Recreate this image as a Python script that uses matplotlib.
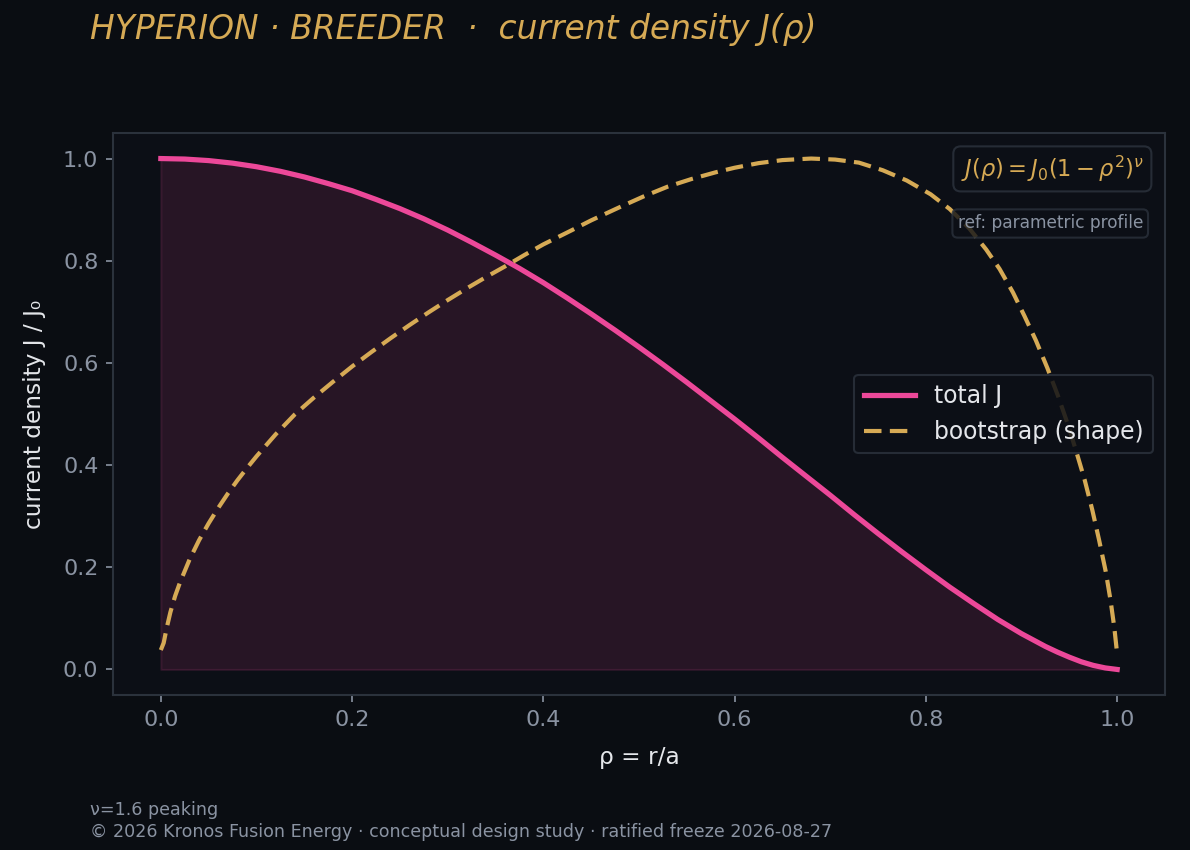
import matplotlib
matplotlib.use("Agg")
import matplotlib.pyplot as plt

# ---- data ----
rho_total = [0.0, 0.025, 0.05, 0.075, 0.1, 0.125, 0.15, 0.175, 0.2, 0.225, 0.25,
             0.275, 0.3, 0.325, 0.35, 0.375, 0.4, 0.425, 0.45, 0.475, 0.5,
             0.525, 0.55, 0.575, 0.6, 0.625, 0.65, 0.675, 0.7, 0.725, 0.75,
             0.775, 0.8, 0.825, 0.85, 0.875, 0.9, 0.925, 0.9375, 0.95, 0.9625,
             0.975, 0.9875, 1.0]
j_total = [1.000, 0.999, 0.996, 0.991, 0.984, 0.975, 0.964, 0.951, 0.937, 0.920, 0.902,
           0.882, 0.860, 0.836, 0.811, 0.785, 0.757, 0.727, 0.696, 0.664, 0.631,
           0.597, 0.562, 0.526, 0.490, 0.453, 0.415, 0.378, 0.341, 0.303, 0.266,
           0.230, 0.195, 0.161, 0.129, 0.098, 0.070, 0.045, 0.034, 0.024, 0.015,
           0.008, 0.003, 0.000]

rho_boot = [0.0, 0.003, 0.006, 0.010, 0.015, 0.02, 0.03, 0.04, 0.05, 0.06, 0.07,
            0.08, 0.09, 0.10, 0.12, 0.14, 0.16, 0.18, 0.20, 0.22, 0.24, 0.26,
            0.28, 0.30, 0.32, 0.34, 0.36, 0.38, 0.40, 0.43, 0.45, 0.48, 0.505,
            0.53, 0.555, 0.58, 0.60, 0.625, 0.65, 0.68, 0.705, 0.73, 0.755, 0.78,
            0.805, 0.825, 0.845, 0.863, 0.877, 0.891, 0.903, 0.915, 0.927, 0.938,
            0.948, 0.957, 0.966, 0.974, 0.981, 0.988, 0.993, 0.997, 1.0]
j_boot = [0.038, 0.052, 0.080, 0.112, 0.144, 0.170, 0.215, 0.253, 0.286, 0.316, 0.344,
          0.370, 0.394, 0.417, 0.460, 0.499, 0.532, 0.563, 0.593, 0.621, 0.648, 0.674,
          0.699, 0.723, 0.746, 0.768, 0.789, 0.811, 0.832, 0.860, 0.879, 0.905, 0.926,
          0.945, 0.960, 0.973, 0.982, 0.991, 0.997, 1.000, 0.998, 0.992, 0.977, 0.957,
          0.930, 0.901, 0.864, 0.822, 0.784, 0.738, 0.692, 0.644, 0.590, 0.536,
          0.482, 0.428, 0.371, 0.312, 0.254, 0.192, 0.136, 0.082, 0.030]

title = "HYPERION · BREEDER  ·  current density J(ρ)"
xlabel = "ρ = r/a"
ylabel = "current density J / J₀"
label_total = "total J"
label_boot = "bootstrap (shape)"
formula = r"$J(\rho) = J_0(1-\rho^2)^{\nu}$"
ref_note = "ref: parametric profile"
foot1 = "ν=1.6 peaking"
foot2 = "© 2026 Kronos Fusion Energy · conceptual design study · ratified freeze 2026-08-27"

# ---- style ----
BG = "#0a0d12"
AX_BG = "#0c0f16"
SPINE = "#2b323c"
PINK = "#ec4899"
GOLD = "#d6aa55"
TICK = "#8a93a2"
LABEL = "#e4e6ea"

plt.rcParams['font.family'] = ['DejaVu Sans']

fig = plt.figure(figsize=(1190 / 150, 850 / 150), dpi=150, facecolor=BG)
ax = fig.add_axes([113 / 1190, 1 - 695 / 850, (1165 - 113) / 1190, (695 - 133) / 850])
ax.set_facecolor(AX_BG)

ax.fill_between(rho_total, j_total, 0, color=PINK, alpha=0.12, linewidth=1.0)
ax.plot(rho_total, j_total, color=PINK, lw=2.5, label=label_total, zorder=3)
ax.plot(rho_boot, j_boot, color=GOLD, lw=2.0, ls=(0, (4.2, 2.0)), label=label_boot, zorder=3)

ax.set_xlim(-0.05, 1.05)
ax.set_ylim(-0.05, 1.05)
ax.set_xticks([0.0, 0.2, 0.4, 0.6, 0.8, 1.0])
ax.set_yticks([0.0, 0.2, 0.4, 0.6, 0.8, 1.0])
ax.tick_params(colors=TICK, labelsize=10.7, length=3.5, width=0.8)
for s in ax.spines.values():
    s.set_color(SPINE)
    s.set_linewidth(1.0)

ax.set_xlabel(xlabel, color=LABEL, fontsize=11.2, labelpad=8)
ax.set_ylabel(ylabel, color=LABEL, fontsize=11.2, labelpad=8)

leg = ax.legend(loc="center right", fontsize=11.3, facecolor=AX_BG, edgecolor=SPINE,
                framealpha=0.85, labelcolor=LABEL, fancybox=True, handlelength=2.2)
leg.set_zorder(5)

ax.text(0.98, 0.963, formula, transform=ax.transAxes, ha="right", va="top",
        fontsize=10.8, color=GOLD, zorder=6,
        bbox=dict(boxstyle="round,pad=0.33", facecolor=AX_BG, edgecolor=SPINE, alpha=0.85))
ax.text(0.979, 0.855, ref_note, transform=ax.transAxes, ha="right", va="top",
        fontsize=8.2, color=TICK, zorder=6,
        bbox=dict(boxstyle="round,pad=0.3", facecolor=AX_BG, edgecolor=SPINE, alpha=0.8))

fig.text(90 / 1190, 1 - 29 / 850, title, ha="left", va="center", fontsize=15.8,
         style="italic", color=GOLD)
fig.text(90 / 1190, 1 - 810 / 850, foot1, ha="left", va="center", fontsize=8.4, color=TICK)
fig.text(90 / 1190, 1 - 832 / 850, foot2, ha="left", va="center", fontsize=8.4, color=TICK)

fig.savefig("out.png", dpi=150, facecolor=BG)
